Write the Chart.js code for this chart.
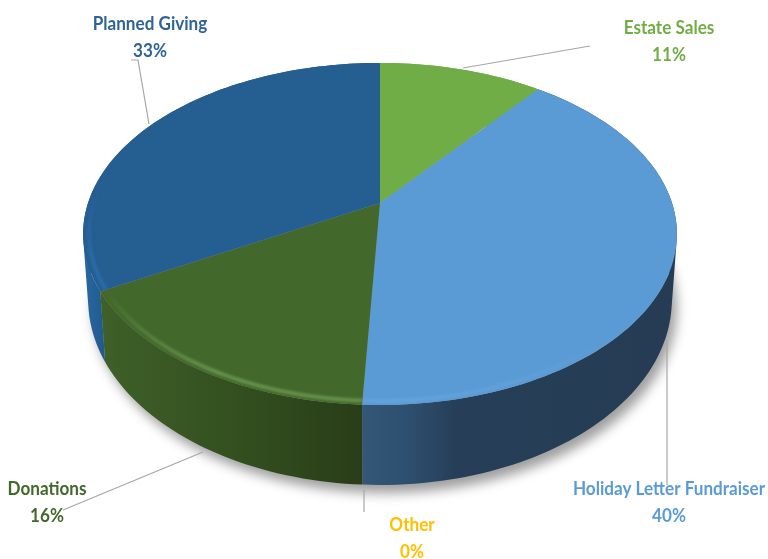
<!DOCTYPE html>
<html>
<head>
<meta charset="utf-8">
<style>
html, body { margin: 0; padding: 0; background: #fff; }
canvas { display: block; }
</style>
<script src="https://cdn.jsdelivr.net/npm/chart.js@4"></script>
</head>
<body>
<canvas id="pie3d" width="768" height="559"></canvas>
<script>
const categories = ['Estate Sales', 'Holiday Letter Fundraiser', 'Other', 'Donations', 'Planned Giving'];
const shares = [10.6, 40.2, 0, 16.1, 33.1];
const faceColors = ['#70AD47', '#5B9BD5', '#FFC000', '#43682B', '#255E91'];
const labelColors = ['#70AD47', '#5B9BD5', '#FFC000', '#43682B', '#2F6495'];

// perspective of the disc: top face and bottom face of the cylinder
const tilt = -0.181;
const topFace = { cx: 380, cy: 203, rx: 292, ry: 165.4 };
const bottomFace = { cx: 380, cy: 266.4, rx: 287, ry: 179 };

// label centres and leader lines
const labelSpots = [
    { x: 669, y: 28, line: [[463, 68], [590, 46]] },
    { x: 669, y: 489, line: [[667, 340], [667, 485]] },
    { x: 412, y: 525, line: [[364, 490], [364, 512]] },
    { x: 47, y: 489, line: [[203, 452], [63, 510]] },
    { x: 150, y: 24, line: [[149, 124], [138, 60], [131, 60]] }
];

// rim highlight per slice: colour and the y where it starts to show
const bevels = {
    1: { color: '#66A6DE', from: 340, to: 405 },
    3: { color: '#6F9E54', from: 290, to: 370 },
    4: { color: '#2C70AE', from: 190, to: 260 }
};

function project(face, angle) {
    const t = angle + Math.PI / 2;
    const x = Math.sin(t), y = -Math.cos(t);
    const d = 1 + tilt * y;
    return [face.cx + face.rx * x / d, face.cy + face.ry * y / d];
}

function arcPoints(face, from, to) {
    const steps = Math.max(2, Math.ceil(Math.abs(to - from) * 40));
    const pts = [];
    for (let i = 0; i <= steps; i++) pts.push(project(face, from + (to - from) * i / steps));
    return pts;
}

function tracePath(ctx, pts, closed) {
    ctx.beginPath();
    addPoints(ctx, pts);
    if (closed) ctx.closePath();
}

function addPoints(ctx, pts) {
    pts.forEach((p, i) => i ? ctx.lineTo(p[0], p[1]) : ctx.moveTo(p[0], p[1]));
}

// strips must all wind the same way or overlapping ones cancel out in one path
function sameWinding(pts) {
    let area = 0;
    pts.forEach((p, i) => {
        const q = pts[(i + 1) % pts.length];
        area += p[0] * q[1] - q[0] * p[1];
    });
    return area < 0 ? pts.slice().reverse() : pts;
}

function wallFill(ctx, index) {
    let g;
    if (index === 1) {
        g = ctx.createLinearGradient(364, 0, 677, 0);
        g.addColorStop(0, '#345777');
        g.addColorStop(0.13, '#2E5070');
        g.addColorStop(0.3, '#263E57');
        g.addColorStop(1, '#253C54');
    } else if (index === 3) {
        g = ctx.createLinearGradient(100, 0, 364, 0);
        g.addColorStop(0, '#3F6029');
        g.addColorStop(0.5, '#33501F');
        g.addColorStop(1, '#293D18');
    } else if (index === 4) {
        g = ctx.createLinearGradient(84, 0, 110, 0);
        g.addColorStop(0, '#2868A3');
        g.addColorStop(1, '#1F5587');
    } else {
        return faceColors[index];
    }
    return g;
}

const pie3dPlugin = {
    id: 'pie3d',
    beforeDatasetDraw(chart) {
        const ctx = chart.ctx;
        const arcs = chart.getDatasetMeta(0).data;

        // soft shadow under the disc
        ctx.save();
        ctx.filter = 'blur(6px)';
        ctx.fillStyle = 'rgba(0,0,0,0.38)';
        ctx.translate(5, 8);
        tracePath(ctx, arcPoints(bottomFace, 0, Math.PI * 2), true);
        ctx.fill();
        ctx.restore();

        // side walls, back ones first; all strips of a wall go in one path so no seams show
        [0, 4, 1, 2, 3].forEach(i => {
            const a = arcs[i];
            if (a.endAngle - a.startAngle < 0.001) return;
            const upper = arcPoints(topFace, a.startAngle, a.endAngle);
            const lower = arcPoints(bottomFace, a.startAngle, a.endAngle);
            ctx.beginPath();
            for (let k = 0; k < upper.length - 1; k++) {
                addPoints(ctx, sameWinding([upper[k], upper[k + 1], lower[k + 1], lower[k]]));
                ctx.closePath();
            }
            ctx.fillStyle = wallFill(ctx, i);
            ctx.fill();
        });

        // top faces with a lighter bevel on the front of the rim
        arcs.forEach((a, i) => {
            if (a.endAngle - a.startAngle < 0.001) return;
            const rim = arcPoints(topFace, a.startAngle, a.endAngle);
            ctx.save();
            tracePath(ctx, [[topFace.cx, topFace.cy]].concat(rim), true);
            ctx.fillStyle = faceColors[i];
            ctx.fill();
            const bevel = bevels[i];
            if (bevel) {
                ctx.clip();
                const g = ctx.createLinearGradient(0, bevel.from, 0, bevel.to);
                g.addColorStop(0, bevel.color + '00');
                g.addColorStop(1, bevel.color);
                ctx.filter = 'blur(1.5px)';
                ctx.strokeStyle = g;
                ctx.lineWidth = 3;
                const inner = { cx: topFace.cx, cy: topFace.cy, rx: topFace.rx * 0.98, ry: topFace.ry * 0.98 };
                tracePath(ctx, arcPoints(inner, a.startAngle, a.endAngle), false);
                ctx.stroke();
            }
            ctx.restore();
        });
        return false;
    },
    afterDraw(chart) {
        const ctx = chart.ctx;
        ctx.save();
        labelSpots.forEach(s => {
            tracePath(ctx, s.line, false);
            ctx.strokeStyle = '#A6A6A6';
            ctx.lineWidth = 1.2;
            ctx.stroke();
        });
        ctx.filter = 'blur(0.6px)';
        ctx.font = 'bold 18px Lato, sans-serif';
        ctx.textAlign = 'center';
        ctx.textBaseline = 'middle';
        categories.forEach((name, i) => {
            const s = labelSpots[i];
            ctx.fillStyle = labelColors[i];
            ctx.save();
            ctx.translate(s.x, s.y);
            ctx.scale(0.95, 1);
            ctx.fillText(name, 0, 0);
            ctx.fillText(Math.round(shares[i]) + '%', 0, 27);
            ctx.restore();
        });
        ctx.restore();
    }
};

new Chart(document.getElementById('pie3d'), {
    type: 'pie',
    data: {
        labels: categories,
        datasets: [{ data: shares, backgroundColor: faceColors, borderWidth: 0 }]
    },
    options: {
        responsive: false,
        animation: false,
        plugins: { legend: { display: false }, tooltip: { enabled: false } }
    },
    plugins: [pie3dPlugin]
});
</script>
</body>
</html>
